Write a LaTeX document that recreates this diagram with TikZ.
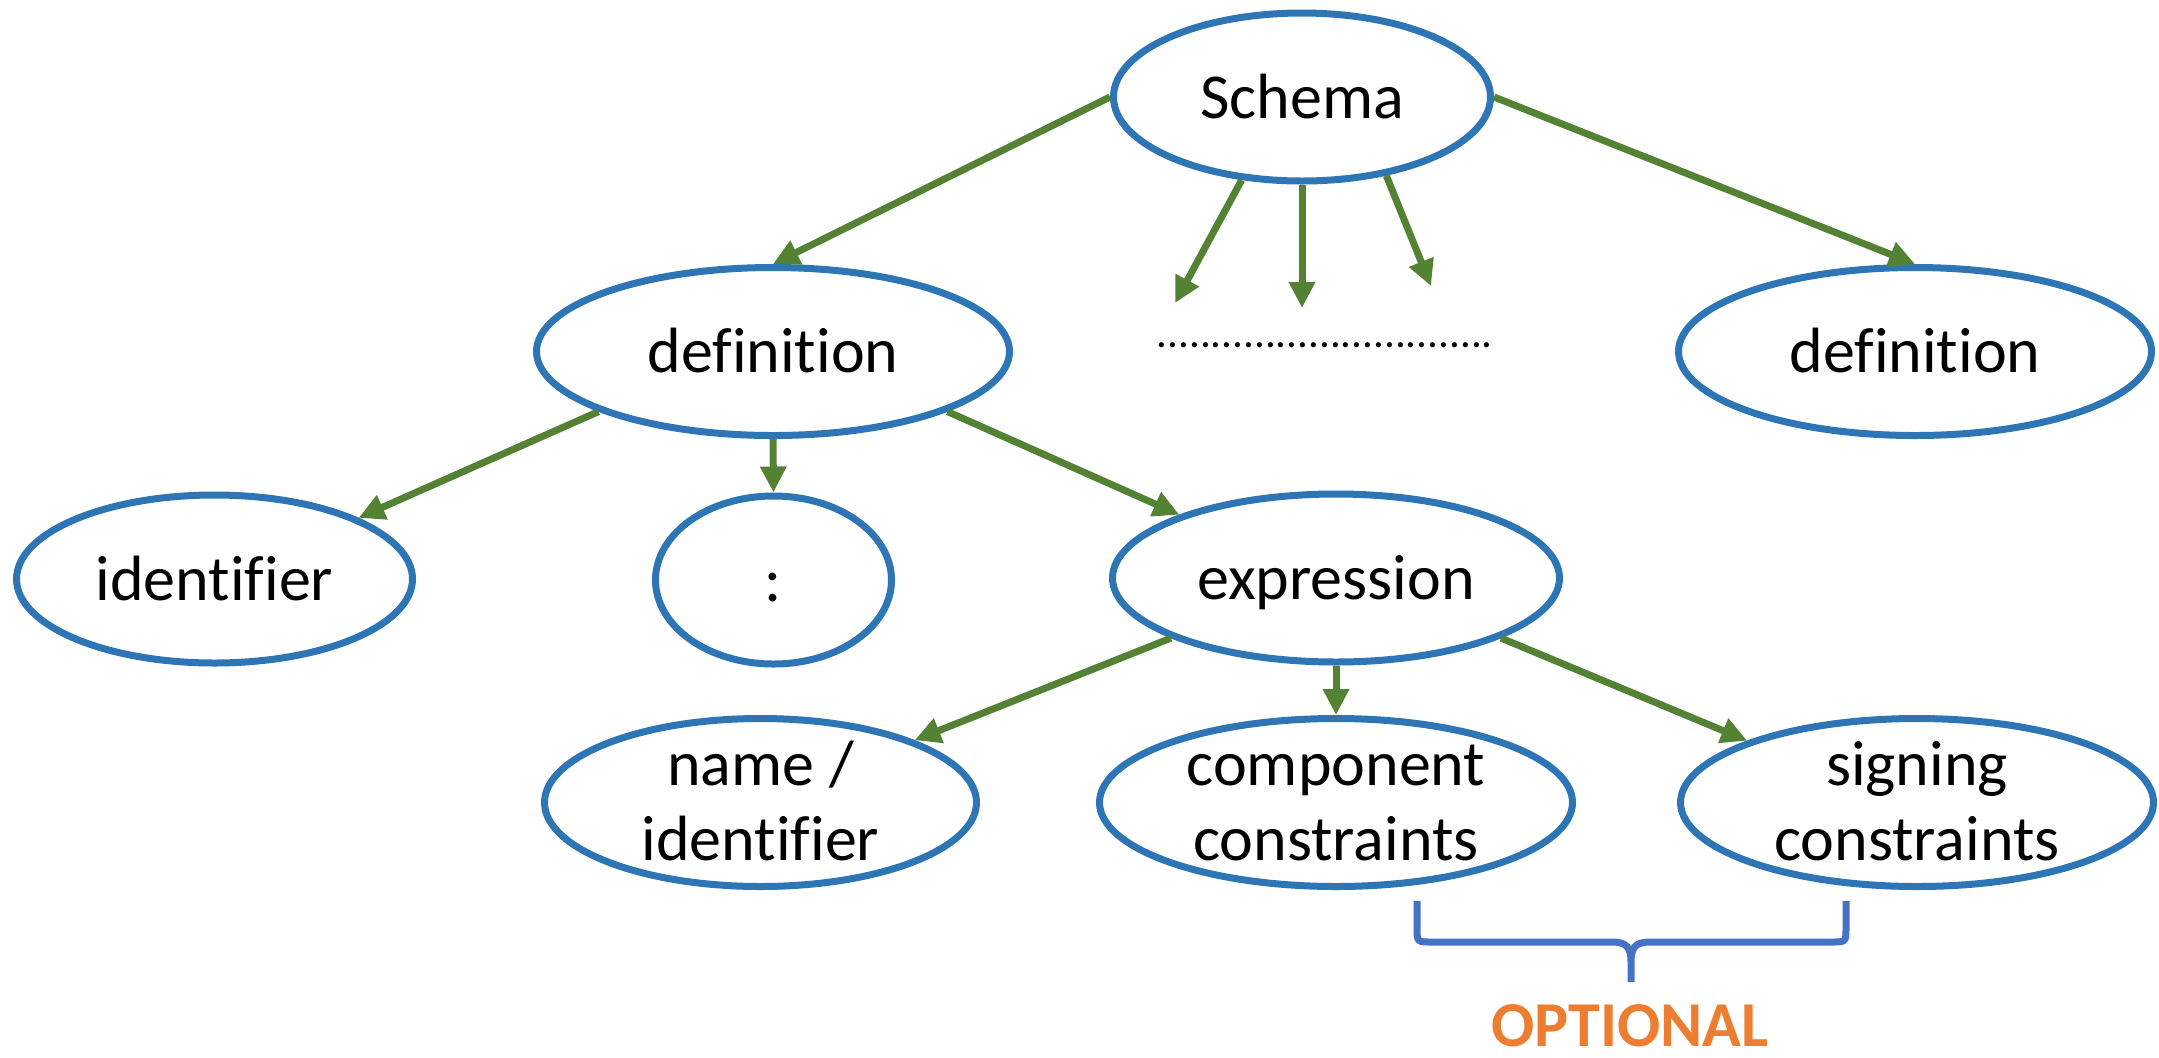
\documentclass[tikz,border=0pt]{standalone}
\usepackage{fontspec}
\setmainfont{Carlito}[Ligatures=NoCommon]
\usetikzlibrary{arrows.meta,shapes.geometric}
\definecolor{ovalblue}{HTML}{2E75B6}
\definecolor{linkgreen}{HTML}{548235}
\definecolor{bracecol}{HTML}{4472C4}
\definecolor{optorange}{HTML}{ED7D31}
% two centred lines; the box baseline is that of the second line
\newcommand\twolines[2]{\vbox{\baselineskip=37.5pt\halign{\hfil##\hfil\cr#1\cr#2\cr}}}
\begin{document}
\begin{tikzpicture}[x=0.5pt, y=-0.5pt,
  oval/.style={draw=ovalblue, fill=white, line width=3.5pt, ellipse, inner sep=0pt,
    font=\fontsize{32}{37.5}\selectfont, text height=21pt, text depth=0pt,
    minimum height=84pt},
  twoline/.style={text height=57.5pt},
  link/.style={draw=linkgreen, line width=3.5pt, -{Triangle[length=13pt,width=12.5pt]}}]
\useasboundingbox (0,0) rectangle (2159,1057);

% tree nodes
\node[oval, minimum width=188.5pt] (schema) at (1302,97) {Schema};
\node[oval, minimum width=236.5pt] (defL) at (773,351.5) {definition};
\node[oval, minimum width=236.5pt] (defR) at (1915,351.5) {definition};
\node[oval, minimum width=198pt] (ident) at (214.5,579) {identifier};
\node[oval, minimum width=118pt] (colon) at (773.5,580) {:};
\node[oval, minimum width=223.5pt] (expr) at (1336,578) {expression};
\node[oval, twoline, minimum width=216pt] (nameid) at (760.5,802.5) {\twolines{name /}{identifier}};
\node[oval, twoline, minimum width=236.5pt] (comp) at (1336,802.5) {\twolines{component}{constraints}};
\node[oval, twoline, minimum width=236.5pt] (sign) at (1917,802.5) {\twolines{signing}{constraints}};

% elided siblings
\node[font=\fontsize{21.5}{24}\selectfont, anchor=base, inner sep=0pt] (dots) at (1325,347) {...............................};
\coordinate (d1) at (1175,303);
\coordinate (d2) at (1302,308);
\coordinate (d3) at (1431,286);

% connectors
\draw[link] (schema.west) -- (defL.north);
\draw[link] (schema.east) -- (defR.north);
\draw[link] (schema.234) -- (d1);
\draw[link] (schema.south) -- (d2);
\draw[link] (schema.317) -- (d3);
\draw[link] (defL.199) -- (ident.23);
\draw[link] (defL.south) -- (colon.north);
\draw[link] (defL.341) -- (expr.158);
\draw[link] (expr.200) -- (nameid.22);
\draw[link] (expr.south) -- (comp.north);
\draw[link] (expr.340) -- (sign.160);

% brace over the optional parts
\draw[bracecol, line width=3.5pt, line join=round]
  (1417,901) -- (1417,928) .. controls (1417,942) .. (1432,942) -- (1612,942)
  .. controls (1627,942) and (1631,948) .. (1631,962) -- (1631,982)
  (1631,962) .. controls (1631,948) and (1635,942) .. (1650,942) -- (1831,942)
  .. controls (1846,942) .. (1846,928) -- (1846,901);
\node[font=\fontsize{32}{37.5}\selectfont\bfseries, text=optorange, anchor=base, inner sep=0pt] (opt) at (1630,1046) {OPTIONAL};
\end{tikzpicture}
\end{document}
